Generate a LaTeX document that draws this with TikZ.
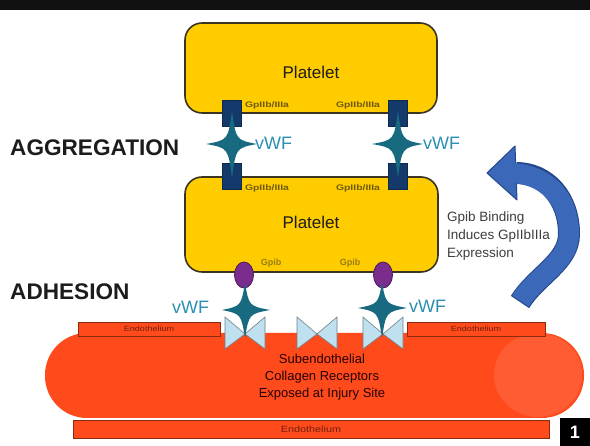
\documentclass[tikz,border=0pt]{standalone}
\usepackage{fontspec}
\setmainfont{Liberation Sans}
\usepackage{graphicx}
\usetikzlibrary{shapes.geometric}

\definecolor{barblack}{HTML}{111111}
\definecolor{pltfill}{HTML}{FFCC00}
\definecolor{pltedge}{HTML}{3B3420}
\definecolor{gpnavy}{HTML}{143A6B}
\definecolor{vwfteal}{HTML}{176A80}
\definecolor{vwftext}{HTML}{2B8FB3}
\definecolor{gpibfill}{HTML}{7B2D8E}
\definecolor{gpibedge}{HTML}{4A1A5A}
\definecolor{recfill}{HTML}{BFE1EF}
\definecolor{recedge}{HTML}{6F8088}
\definecolor{wallred}{HTML}{FF4A1C}
\definecolor{walledge}{HTML}{8A2A10}
\definecolor{arrowblue}{HTML}{3B68B8}
\definecolor{arrowedge}{HTML}{24468C}
\definecolor{gplabel}{HTML}{6E5A0A}
\definecolor{gpiblabel}{HTML}{9C7C12}
\definecolor{darktext}{HTML}{1C1C1C}

% four-pointed vWF star: centre x, centre y, left, right, up, down
\newcommand{\vwfstar}[6]{%
  \fill[vwfteal] (#1-#3,#2) .. controls (#1-4,#2+4) .. (#1,#2+#5)
    .. controls (#1+4,#2+4) .. (#1+#4,#2)
    .. controls (#1+4,#2-4) .. (#1,#2-#6)
    .. controls (#1-4,#2-4) .. cycle;}

% collagen receptor drawn as a bow tie around its centre x
\newcommand{\collrec}[1]{%
  \filldraw[receptor] (#1-20,129) -- (#1,112) -- (#1+20,129) -- (#1+20,97)
    -- (#1,112) -- (#1-20,97) -- cycle;}

\begin{document}
\begin{tikzpicture}[x=1pt,y=1pt,
  platelet/.style={draw=pltedge, line width=1.6pt, fill=pltfill, rounded corners=17pt},
  gpbox/.style={fill=gpnavy, draw=gpnavy!70!black, line width=0.5pt, minimum width=19pt, minimum height=26pt, inner sep=0pt},
  gpib/.style={ellipse, fill=gpibfill, draw=gpibedge, line width=0.8pt, minimum width=19pt, minimum height=26pt, inner sep=0pt},
  receptor/.style={fill=recfill, draw=recedge, line width=0.6pt},
  wall/.style={fill=wallred, rounded corners=42pt, inner sep=0pt},
  endo/.style={fill=wallred, draw=walledge, line width=0.6pt, inner sep=0pt, text=walledge!80!black, font=\fontsize{7.5}{8}\selectfont},
  gplab/.style={text=gplabel, font=\bfseries\fontsize{8}{9}\selectfont, inner sep=0pt},
  gpiblab/.style={text=gpiblabel, font=\bfseries\fontsize{9}{10}\selectfont, inner sep=0pt},
  vwflab/.style={text=vwftext, font=\fontsize{18}{20}\selectfont, anchor=west, inner sep=0pt},
  stage/.style={text=darktext, font=\bfseries\fontsize{22.6}{24}\selectfont, anchor=west, inner sep=0pt},
  body/.style={text=darktext, font=\fontsize{17}{19}\selectfont, inner sep=0pt}
]
\useasboundingbox (0,0) rectangle (590,446);
\fill[white] (0,0) rectangle (590,446);
\fill[barblack] (0,436) rectangle (590,446);

% vessel wall with exposed subendothelium
\node[wall, minimum width=539pt, minimum height=85pt] (wall) at (314.5,70.5) {};
\fill[white, opacity=0.1] (538,71) ellipse [x radius=44, y radius=42];
\node[align=center, text=black!85!red, font=\fontsize{13}{17}\selectfont] (collagen) at (322,69)
  {Subendothelial\\Collagen Receptors\\Exposed at Injury Site};

\node[endo, minimum width=142pt, minimum height=14pt] (endoL) at (149,117) {\scalebox{1.2}[1]{Endothelium}};
\node[endo, minimum width=138pt, minimum height=14pt] (endoR) at (476,117) {\scalebox{1.2}[1]{Endothelium}};
\node[endo, minimum width=476pt, minimum height=18pt, font=\fontsize{9}{10}\selectfont] (endoB) at (311,17) {\scalebox{1.2}[1]{Endothelium}};

% collagen receptors
\collrec{245}
\collrec{317}
\collrec{383}

% platelets
\node[platelet, minimum width=252pt, minimum height=90pt] (plt1) at (311,378) {};
\node[platelet, minimum width=253pt, minimum height=95pt] (plt2) at (311.5,221.5) {};
\node[body] (plt1txt) at (311,374) {Platelet};
\node[body] (plt2txt) at (311,224) {Platelet};

% GpIIb/IIIa receptors
\node[gpbox] (gpA) at (231.5,333) {};
\node[gpbox] (gpB) at (397.5,333) {};
\node[gpbox] (gpC) at (231.5,270) {};
\node[gpbox] (gpD) at (397.5,270) {};
\node[gplab] (labA) at (267,341) {\scalebox{1.3}[1]{GpIIb/IIIa}};
\node[gplab] (labB) at (358,341) {\scalebox{1.3}[1]{GpIIb/IIIa}};
\node[gplab] (labC) at (267,258) {\scalebox{1.3}[1]{GpIIb/IIIa}};
\node[gplab] (labD) at (358,258) {\scalebox{1.3}[1]{GpIIb/IIIa}};

% Gpib receptors
\node[gpib] (gpibL) at (244,171) {};
\node[gpib] (gpibR) at (383,171) {};
\node[gpiblab] (gpibLtxt) at (271,183) {Gpib};
\node[gpiblab] (gpibRtxt) at (350,183) {Gpib};

% vWF bridges
\vwfstar{232}{302}{26}{25}{33}{34}
\vwfstar{398}{302}{26}{25}{33}{34}
\vwfstar{245}{136}{23}{25}{27}{28}
\vwfstar{382}{138}{24}{25}{25}{30}
\node[vwflab] (vwfA) at (255,302.5) {vWF};
\node[vwflab] (vwfB) at (423,302.5) {vWF};
\node[vwflab] (vwfC) at (172,139) {vWF};
\node[vwflab] (vwfD) at (409,140) {vWF};

% stage labels
\node[stage] (agg) at (10,298) {AGGREGATION};
\node[stage] (adh) at (10,154.5) {ADHESION};

% feedback arrow
\draw[arrowedge, line width=22pt] (520,144) .. controls (536,170) and (569,184) .. (569,212)
  .. controls (569,248) and (546,273) .. (516,273);
\filldraw[fill=arrowblue, draw=arrowedge, line width=1pt, line join=round] (515,300) -- (487,273) -- (517,246) -- cycle;
\draw[arrowblue, line width=20pt] (520.5,145) .. controls (536,170) and (569,184) .. (569,212)
  .. controls (569,248) and (546,273) .. (508,273);
\node[align=left, anchor=west, inner sep=0pt, text=darktext!85, font=\fontsize{13.5}{18}\selectfont] (feedback) at (447,210)
  {Gpib Binding\\Induces GpIIbIIIa\\Expression};

% slide number
\node[fill=black, text=white, minimum width=30pt, minimum height=28pt, inner sep=0pt, font=\bfseries\fontsize{18}{20}\selectfont] (slideno) at (575,14) {1};
\end{tikzpicture}
\end{document}
